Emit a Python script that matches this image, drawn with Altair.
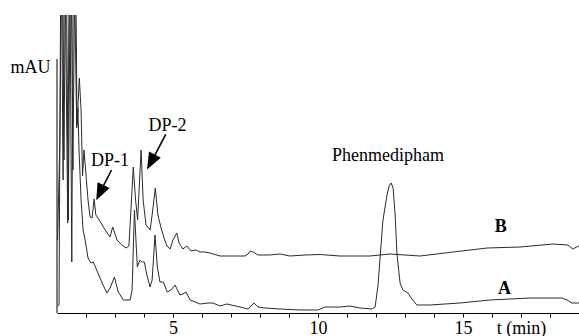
import altair as alt
import pandas as pd

# Trace A (retention time in min, absorbance in arbitrary mAU units)
tA = [1.02, 1.07, 1.14, 1.21, 1.26, 1.37, 1.43, 1.51, 1.57, 1.68, 1.72, 1.76, 1.83, 1.90, 1.97,
      2.07, 2.17, 2.25, 2.31, 2.41, 2.59, 2.72, 2.83, 2.98, 3.11, 3.29, 3.52, 3.59, 3.67, 3.77,
      3.86, 3.93, 4.01, 4.10, 4.21, 4.28, 4.38, 4.46, 4.55, 4.67, 4.80, 4.93, 5.07, 5.24, 5.34,
      5.45, 5.59, 5.76, 5.93, 6.21, 6.38, 6.62, 6.86, 7.31, 7.59, 7.69, 7.79, 7.93, 8.17, 8.69,
      9.38, 10.0, 10.24, 10.76, 11.10, 11.45, 11.86, 11.97, 12.07, 12.24, 12.38, 12.45, 12.52,
      12.59, 12.66, 12.72, 12.83, 12.93, 13.10, 13.24, 13.41, 13.86, 14.38, 14.90, 15.24, 15.93,
      16.62, 17.31, 18.0, 18.41, 18.59, 18.76, 19.0]
vA = [7, 8, 400, 133, 400, 90, 400, 51, 400, 185, 205, 163, 113, 83, 73,
      55, 50, 51, 47, 40, 28, 20, 25, 36, 21, 13, 13, 23, 103, 46,
      53, 51, 51, 38, 26, 33, 78, 46, 31, 31, 21, 23, 28, 18, 19,
      21, 13, 11, 9, 10, 10, 7, 9, 6, 4, 7, 10, 6, 5, 4,
      3, 3, 6, 6, 7, 5, 4, 6, 28, 93, 118, 127, 130,
      125, 98, 60, 30, 23, 20, 14, 8, 8, 9, 10, 11, 13,
      14, 15, 15, 15, 13, 10, 10]

# Trace B
tB = [1.02, 1.10, 1.17, 1.24, 1.31, 1.39, 1.47, 1.55, 1.63, 1.69, 1.77, 1.83, 1.88, 1.93, 2.00,
      2.07, 2.14, 2.21, 2.28, 2.34, 2.48, 2.66, 2.83, 2.92, 3.07, 3.24, 3.38, 3.48, 3.55, 3.63,
      3.71, 3.78, 3.83, 3.90, 3.97, 4.07, 4.21, 4.28, 4.39, 4.48, 4.59, 4.69, 4.79, 4.90, 5.00,
      5.13, 5.21, 5.34, 5.48, 5.62, 5.79, 5.93, 6.10, 6.28, 6.62, 7.48, 7.59, 7.66, 7.76, 7.93,
      8.34, 8.69, 9.03, 9.55, 10.07, 10.76, 11.79, 12.48, 13.52, 14.66, 15.83, 16.97, 18.10,
      18.62, 18.78, 18.92, 19.0]
vB = [73, 173, 400, 153, 400, 93, 400, 143, 400, 188, 235, 203, 137, 163, 138,
      113, 96, 95, 114, 98, 92, 83, 76, 86, 73, 68, 65, 67, 103, 146,
      113, 93, 123, 163, 113, 88, 83, 98, 125, 98, 85, 75, 67, 64, 73,
      80, 70, 64, 67, 62, 63, 61, 61, 60, 57, 57, 59, 62, 61, 58,
      58, 59, 57, 58, 58.5, 57, 57, 59, 57, 61, 65, 66, 69,
      68, 64, 66, 67]

# Annotations
labels = ["DP-1", "DP-2", "Phenmedipham"]
label_t = [2.83, 4.81, 12.41]
label_v = [147, 182, 152]

trace_names = ["B", "A"]
trace_t = [16.30, 16.43]
trace_v = [81, 19]

# Arrows: line start -> head base, head centre, head angle
arrow_t1 = [2.88, 4.75]
arrow_v1 = [143, 178.7]
arrow_t2 = [2.59, 4.36]
arrow_v2 = [126.6, 157.1]
head_t = [2.48, 4.24]
head_v = [120.3, 150.9]
head_angle = [206, 208]

FONT = "Liberation Serif, Times New Roman, serif"
LINE = "#2a2a2a"

xscale = alt.Scale(domain=[1, 19], nice=False, zero=False)
yscale = alt.Scale(domain=[0, 298], nice=False, zero=False)

dfA = pd.DataFrame({"t": tA, "v": vA})
dfB = pd.DataFrame({"t": tB, "v": vB})

xaxis = alt.Axis(
    values=list(range(2, 19)),
    labelExpr="datum.value % 5 == 0 ? datum.label : ''",
    labelOverlap=False,
    grid=False,
    tickSize=4,
    tickColor="black",
    domainColor="black",
    domainWidth=1,
    labelFont=FONT,
    labelFontSize=18,
    labelColor="black",
    labelBaseline="alphabetic",
    labelPadding=16,
    title="t (min)",
    titleFont=FONT,
    titleFontSize=18,
    titleFontWeight="normal",
    titleColor="black",
    titleX=464,
    titleY=20,
    titleAlign="center",
    titleBaseline="alphabetic",
)
yaxis = alt.Axis(
    domain=False, ticks=False, labels=False, grid=False,
    title="mAU",
    titleAngle=0,
    titleFont=FONT,
    titleFontSize=18,
    titleFontWeight="normal",
    titleColor="black",
    titleX=-7,
    titleY=57,
    titleAlign="right",
    titleBaseline="alphabetic",
)


def X(field):
    return alt.X(field, type="quantitative", scale=xscale, axis=xaxis)


def Y(field):
    return alt.Y(field, type="quantitative", scale=yscale, axis=yaxis)


lineA = alt.Chart(dfA).mark_line(color=LINE, strokeWidth=1, clip=True).encode(
    x=X("t"), y=Y("v"), order="t:Q",
)
lineB = alt.Chart(dfB).mark_line(color=LINE, strokeWidth=1, clip=True).encode(
    x=X("t"), y=Y("v"), order="t:Q",
)

yline = alt.Chart(pd.DataFrame({"t": [1], "v0": [0], "v1": [254]})).mark_rule(
    color="black", strokeWidth=1
).encode(x=X("t"), y=Y("v0"), y2="v1:Q")

txt = alt.Chart(pd.DataFrame({"label": labels, "t": label_t, "v": label_v})).mark_text(
    font=FONT, fontSize=18, color="black", align="center", baseline="alphabetic"
).encode(x=X("t"), y=Y("v"), text="label:N")

trace_txt = alt.Chart(pd.DataFrame({"label": trace_names, "t": trace_t, "v": trace_v})).mark_text(
    font=FONT, fontSize=18, fontWeight="bold", color="black", align="center", baseline="alphabetic"
).encode(x=X("t"), y=Y("v"), text="label:N")

arrows = alt.Chart(pd.DataFrame({"t1": arrow_t1, "v1": arrow_v1, "t2": arrow_t2, "v2": arrow_v2})).mark_rule(
    color="black", strokeWidth=1.6
).encode(x=X("t1"), y=Y("v1"), x2="t2:Q", y2="v2:Q")

heads = alt.Chart(pd.DataFrame({"t": head_t, "v": head_v, "a": head_angle})).mark_point(
    shape="M0,-1L0.8,1L-0.8,1Z", size=280, filled=True, color="black", opacity=1, strokeWidth=0
).encode(x=X("t"), y=Y("v"), angle=alt.Angle("a:Q", scale=None))

chart = alt.layer(yline, lineB, lineA, txt, trace_txt, arrows, heads).properties(
    width=522,
    height=298,
    autosize=alt.AutoSizeParams(type="none"),
    padding={"left": 57, "top": 15, "right": 0, "bottom": 23},
    background="white",
).configure_view(stroke=None)

chart.save("out.html", embed_options={"renderer": "svg", "actions": False})
